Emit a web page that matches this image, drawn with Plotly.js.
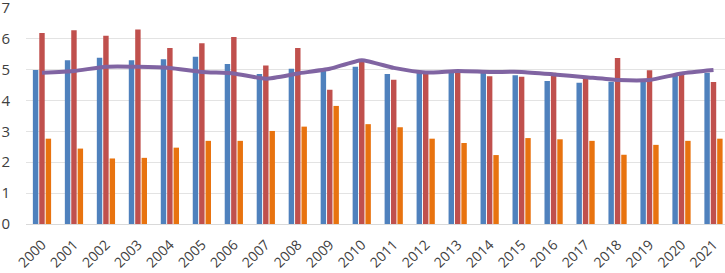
<!DOCTYPE html>
<html>
<head>
<meta charset="utf-8">
<script src="https://cdn.plot.ly/plotly-3.0.1.min.js"></script>
<style>
html,body{margin:0;padding:0;overflow:hidden;background:#fff;}
#chart{width:725px;height:273px;}
</style>
</head>
<body>
<div id="chart"></div>
<script>
var years = ["2000","2001","2002","2003","2004","2005","2006","2007","2008","2009","2010",
             "2011","2012","2013","2014","2015","2016","2017","2018","2019","2020","2021"];
var seriesBlue   = [4.98,5.30,5.38,5.30,5.33,5.41,5.18,4.85,5.02,4.97,5.09,4.85,4.89,4.98,4.89,4.81,4.63,4.57,4.60,4.62,4.81,4.89];
var seriesRed    = [6.18,6.27,6.09,6.29,5.69,5.85,6.05,5.13,5.69,4.34,5.27,4.67,4.89,4.95,4.78,4.76,4.89,4.76,5.37,4.97,4.87,4.59];
var seriesOrange = [2.76,2.44,2.12,2.14,2.47,2.69,2.69,3.01,3.15,3.82,3.23,3.13,2.76,2.62,2.23,2.78,2.74,2.69,2.24,2.56,2.69,2.76];
var seriesLine   = [4.89,4.95,5.09,5.09,5.05,4.92,4.87,4.70,4.87,5.02,5.30,5.05,4.90,4.95,4.92,4.92,4.84,4.75,4.66,4.66,4.87,4.98];
var yTicks = [0,1,2,3,4,5,6,7];

var traces = [
  {type:'bar', x:years, y:seriesBlue, name:'Series 1', marker:{color:'#4F81BD'}},
  {type:'bar', x:years, y:seriesRed, name:'Series 2', marker:{color:'#C0504D'}},
  {type:'bar', x:years, y:seriesOrange, name:'Series 3', marker:{color:'#E8730F'}},
  {type:'scatter', mode:'lines', x:years, y:seriesLine, name:'Series 4',
   line:{color:'#8064A2', width:4, shape:'spline', smoothing:0.5}}
];

var layout = {
  width:725, height:273,
  margin:{l:26, r:0, t:7, b:49, pad:0},
  paper_bgcolor:'#ffffff', plot_bgcolor:'#ffffff',
  showlegend:false,
  barmode:'group', bargap:0.4, bargroupgap:0.15,
  font:{family:'"Open Sans", "Liberation Sans", Arial, sans-serif', color:'#404040'},
  xaxis:{type:'category', range:[-0.5, 21.36], tickangle:-45, tickfont:{size:14, color:'#404040'},
         showgrid:false, showline:true, linecolor:'#d9d9d9', linewidth:1, ticks:'', zeroline:false,
         ticklabelstandoff:6},
  yaxis:{range:[0,7.02], tickvals:yTicks, ticktext:yTicks.map(String), showgrid:true, gridcolor:'#e3e3e3',
         gridwidth:1, zeroline:false, showline:false, ticks:'', tickfont:{size:15, color:'#404040'},
         ticklabelstandoff:15, ticklabeloverflow:'allow'}
};
Plotly.newPlot('chart', traces, layout, {displayModeBar:false, staticPlot:true});
</script>
</body>
</html>
